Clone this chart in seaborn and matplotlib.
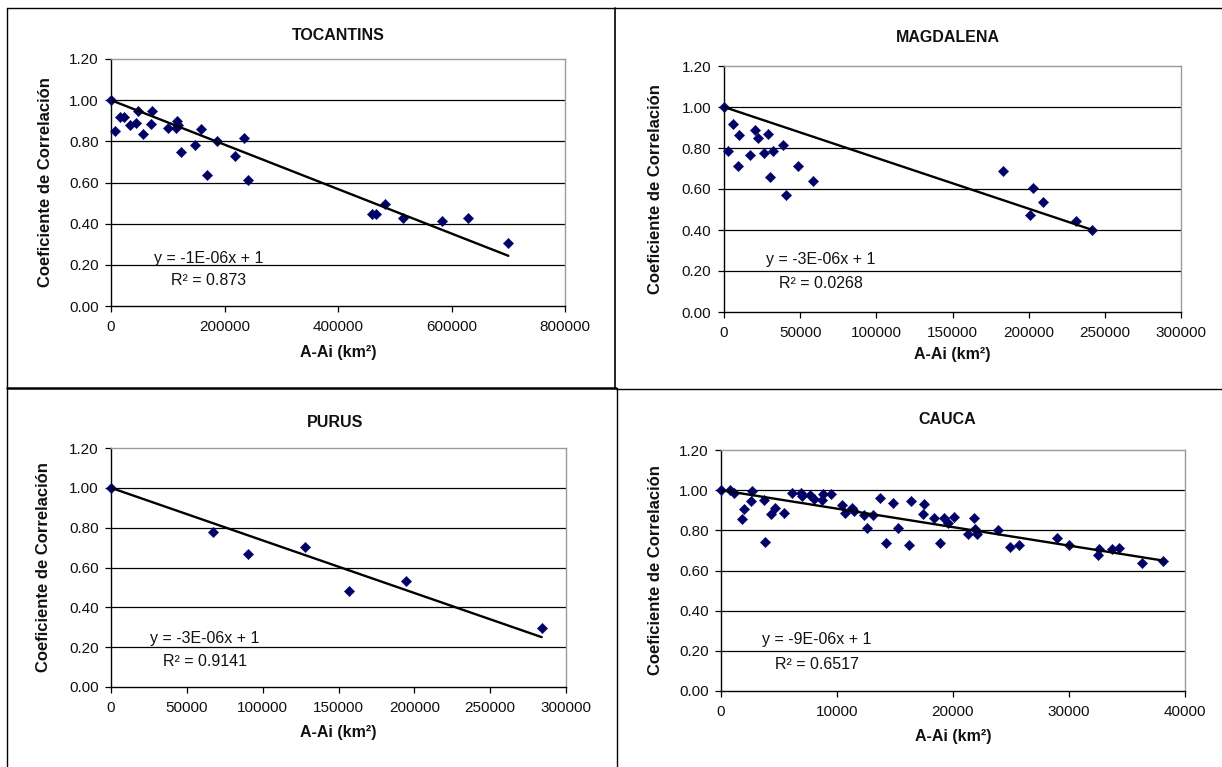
import numpy as np
import pandas as pd
import matplotlib
matplotlib.use("Agg")
import matplotlib.pyplot as plt
from matplotlib.lines import Line2D
import seaborn as sns

sns.set_style("white")
plt.rcParams['font.family'] = ['Liberation Sans', 'DejaVu Sans']

# ---------------- data ----------------
titles = ["TOCANTINS", "MAGDALENA", "PURUS", "CAUCA"]

toc_x = [0, 7600, 15800, 22700, 33000, 43400, 46800, 55800, 70200, 73000, 101200,
         114300, 117000, 118400, 123900, 147300, 159000, 170000, 187300, 218200,
         234100, 241700, 459900, 467500, 482600, 515000, 583800, 628600, 700200]
toc_y = [1.00, 0.85, 0.92, 0.92, 0.88, 0.89, 0.947, 0.837, 0.884, 0.947, 0.866,
         0.866, 0.90, 0.879, 0.746, 0.78, 0.859, 0.637, 0.803, 0.731,
         0.817, 0.61, 0.448, 0.448, 0.495, 0.426, 0.413, 0.426, 0.308]

mag_x = [0, 2560, 6150, 9220, 9990, 17170, 20240, 22030, 26390, 28700, 30490,
         32280, 38690, 41000, 48420, 58420, 183450, 201130, 202660, 209330,
         231100, 241870]
mag_y = [1.00, 0.785, 0.917, 0.71, 0.862, 0.764, 0.886, 0.849, 0.777, 0.868, 0.66,
         0.784, 0.813, 0.572, 0.71, 0.64, 0.689, 0.475, 0.605, 0.538,
         0.442, 0.40]

pur_x = [0, 67000, 90200, 127600, 157200, 194300, 284000]
pur_y = [1.00, 0.776, 0.67, 0.705, 0.48, 0.53, 0.296]

cau_x = [0, 770, 1110, 1850, 1950, 2560, 2690, 3670, 3800, 4340, 4680, 5450,
         6120, 6900, 7000, 7700, 8010, 8710, 8780, 9490, 10460, 10700, 11300,
         11470, 12310, 12580, 13120, 13730, 14260, 14870, 15240, 16220, 16420,
         17430, 17530, 18400, 18870, 19240, 19580, 20080, 21300, 21770, 21930,
         22030, 23850, 24930, 25700, 28960, 29970, 32490, 32600, 33740, 34280,
         36270, 38080]
cau_y = [1.00, 1.00, 0.984, 0.855, 0.905, 0.944, 0.994, 0.951, 0.742, 0.881, 0.91,
         0.888, 0.988, 0.984, 0.973, 0.974, 0.954, 0.951, 0.983, 0.979, 0.924,
         0.888, 0.91, 0.898, 0.875, 0.81, 0.875, 0.959, 0.735, 0.938, 0.81,
         0.727, 0.944, 0.883, 0.931, 0.863, 0.735, 0.863, 0.835, 0.868, 0.782,
         0.863, 0.807, 0.782, 0.802, 0.719, 0.729, 0.763, 0.725, 0.677, 0.705,
         0.705, 0.714, 0.637, 0.647]

series_x = [toc_x, mag_x, pur_x, cau_x]
series_y = [toc_y, mag_y, pur_y, cau_y]

trend_slopes = [-1.08e-6, -2.48e-6, -2.64e-6, -9.2e-6]
trend_intercept = 1.0
equations = ["y = -1E-06x + 1", "y = -3E-06x + 1", "y = -3E-06x + 1", "y = -9E-06x + 1"]
r2_labels = ["R² = 0.873", "R² = 0.0268", "R² = 0.9141", "R² = 0.6517"]

x_max = [800000, 300000, 300000, 40000]
x_step = [200000, 50000, 50000, 10000]
y_ticks = [0.0, 0.2, 0.4, 0.6, 0.8, 1.0, 1.2]

# ---------------- layout (pixels) ----------------
W, H = 1222, 767
fig = plt.figure(figsize=(W / 100, H / 100), dpi=100)

# left, right, top, bottom of plot area
boxes = [(111, 565, 59, 306), (724, 1181, 66, 312),
         (111, 566, 448, 687), (721, 1185, 450, 691)]
title_pos = [(338, 35), (948, 37), (335, 422), (947, 420)]
ylabel_x = [46, 656, 44, 656]
xlabel_y = [352, 355, 732, 737]
eq_pos = [(172000, 0.233, 0.126), (63600, 0.258, 0.141),
          (62000, 0.246, 0.13), (8280, 0.254, 0.13)]

marker_color = "#000066"
text_color = "#111111"

for i in range(4):
    l, r, t, b = boxes[i]
    ax = fig.add_axes([l / W, 1 - b / H, (r - l) / W, (b - t) / H])
    df = pd.DataFrame({"x": series_x[i], "y": series_y[i]})
    sns.scatterplot(data=df, x="x", y="y", ax=ax, marker="D", s=28,
                    color=marker_color, edgecolor=marker_color, linewidth=0.3,
                    zorder=4, clip_on=False)
    xs = np.array([0, max(series_x[i])], dtype=float)
    ax.plot(xs, trend_intercept + trend_slopes[i] * xs, color="black", lw=1.7, zorder=5)

    ax.set_xlim(0, x_max[i])
    ax.set_ylim(0, 1.2)
    ax.set_yticks(y_ticks)
    ax.set_yticklabels([f"{v:.2f}" for v in y_ticks])
    xt = np.arange(0, x_max[i] + 1, x_step[i])
    ax.set_xticks(xt)
    ax.set_xticklabels([str(int(v)) for v in xt])
    for v in y_ticks[1:-1]:
        ax.axhline(v, color="black", lw=0.9, zorder=1)

    for s in ["left", "bottom"]:
        ax.spines[s].set_color("black")
        ax.spines[s].set_linewidth(1.0)
    for s in ["top", "right"]:
        ax.spines[s].set_color("#9a9a9a")
        ax.spines[s].set_linewidth(1.0)

    ax.tick_params(axis="both", direction="out", length=4, width=0.9,
                   color="black", labelsize=11, labelcolor=text_color)
    ax.tick_params(axis="x", bottom=True, pad=6)
    ax.tick_params(axis="y", left=True, pad=5)

    ax.set_xlabel("")
    ax.set_ylabel("")

    tx, ty = title_pos[i]
    fig.text(tx / W, 1 - ty / H, titles[i], ha="center", va="center",
             fontsize=11.5, fontweight="bold", color=text_color)
    fig.text(ylabel_x[i] / W, 1 - ((t + b) / 2) / H, "Coeficiente de Correlación",
             rotation=90, ha="center", va="center", fontsize=12,
             fontweight="bold", color=text_color)
    fig.text(((l + r) / 2) / W, 1 - xlabel_y[i] / H, "A-Ai (km²)",
             ha="center", va="center", fontsize=11.5, fontweight="bold",
             color=text_color)
    ex, ey1, ey2 = eq_pos[i]
    ax.text(ex, ey1, equations[i], ha="center", va="center", fontsize=11.5,
            color=text_color, zorder=6)
    ax.text(ex, ey2, r2_labels[i], ha="center", va="center", fontsize=11.5,
            color=text_color, zorder=6)


def fline(x0, y0, x1, y1, lw=1.0, color="black"):
    fig.add_artist(Line2D([x0 / W, x1 / W], [1 - y0 / H, 1 - y1 / H],
                          color=color, lw=lw, transform=fig.transFigure))


# panel borders
fline(7, 8, W, 8, lw=1.0)
fline(7, 8, 7, H, lw=1.0)
fline(615, 8, 615, 388, lw=1.2)
fline(617, 388, 617, H, lw=1.0)
fline(7, 388, 616, 388, lw=1.8)
fline(616, 389, W, 389, lw=1.0)

fig.savefig("out.png", dpi=100)
